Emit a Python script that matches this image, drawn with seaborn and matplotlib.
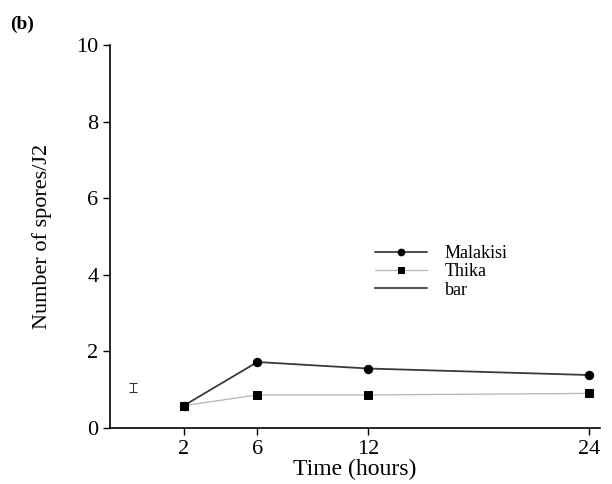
import numpy as np
import pandas as pd
import matplotlib
matplotlib.use("Agg")
import matplotlib.pyplot as plt
import seaborn as sns

# values
hours = [2, 6, 12, 24]
malakisi = [0.58, 1.72, 1.55, 1.38]
thika = [0.58, 0.86, 0.86, 0.90]
bar_x = -0.75
bar_y = 1.05
bar_err = 0.12

sns.set_theme(style="ticks")
plt.rcParams['font.family'] = ['Liberation Serif', 'DejaVu Serif']
plt.rcParams['text.color'] = 'black'
plt.rcParams['axes.labelcolor'] = 'black'

df = pd.DataFrame({
    "Time": hours * 2,
    "Spores": malakisi + thika,
    "Site": ["Malakisi"] * len(hours) + ["Thika"] * len(hours),
})

fig = plt.figure(figsize=(6.12, 4.84), dpi=100)
ax = fig.add_axes([0.18, 0.116, 0.80, 0.791])

sns.lineplot(data=df[df.Site == "Malakisi"], x="Time", y="Spores", ax=ax,
             color="#3a3a3a", lw=1.3, marker="o", markersize=6,
             markeredgecolor="black", markerfacecolor="black", label="Malakisi")
sns.lineplot(data=df[df.Site == "Thika"], x="Time", y="Spores", ax=ax,
             color="#b5b5b5", lw=0.9, marker="s", markersize=6,
             markeredgecolor="black", markerfacecolor="black", label="Thika")
ax.plot([], [], color="#555555", lw=1.5, label="bar")

# the standard error bar on the left
ax.errorbar([bar_x], [bar_y], yerr=[bar_err], fmt="none", ecolor="#333333",
            elinewidth=0.8, capsize=3, capthick=0.8)

ax.set_xlim(-2, 24.6)
ax.set_ylim(0, 10)
ax.set_xticks(hours)
ax.set_yticks([0, 2, 4, 6, 8, 10])
ax.tick_params(axis="both", labelsize=16, length=5, width=1, colors="black")
for s in ["left", "bottom"]:
    ax.spines[s].set_linewidth(1.2)
    ax.spines[s].set_color("black")
sns.despine(ax=ax)

ax.set_xlabel("Time (hours)", fontsize=17, labelpad=0)
ax.set_ylabel("Number of spores/J2", fontsize=16, labelpad=17)

leg = ax.legend(loc="upper left", bbox_to_anchor=(0.541, 0.478), frameon=False,
                fontsize=13, handlelength=2.9, handletextpad=0.95,
                labelspacing=0.08, borderpad=0, borderaxespad=0,
                markerscale=0.8)

fig.text(0.016, 0.94, "(b)", fontsize=14, fontweight="bold")

fig.savefig("out.png", dpi=100)
